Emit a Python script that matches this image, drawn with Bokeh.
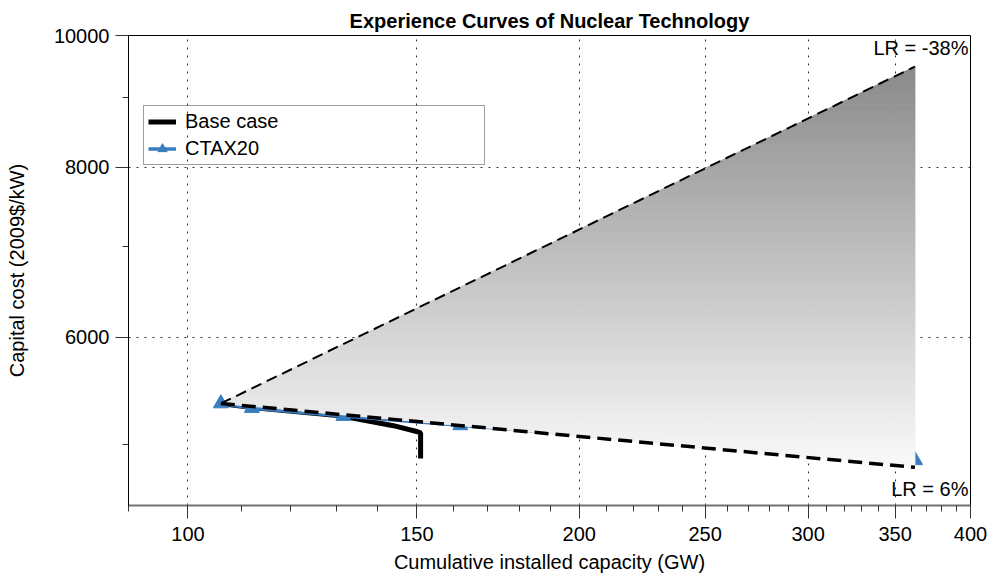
import numpy as np
from bokeh.plotting import figure
from bokeh.models import FixedTicker, Label, Range1d, BasicTickFormatter
from bokeh.embed import file_html
from bokeh.resources import INLINE

# ---------------- data ----------------
base_x = [106, 112, 131, 143.9, 150.2, 151, 151]
base_y = [5361, 5325, 5250, 5163, 5110, 5100, 4883]

ctax_x = [106, 112, 131.7, 162, 362.6]
ctax_y = [5361, 5319, 5248, 5166, 4869]

lr_x = [106, 362.5]
lr_neg38_y = [5361, 9487]   # LR = -38%
lr_6_y = [5361, 4811]       # LR = 6%

x_major = [100, 150, 200, 250, 300, 350, 400]
x_minor = [90, 100, 110, 120, 130, 140, 150, 160, 170, 180, 190, 200, 210, 220, 230,
           240, 250, 260, 270, 280, 290, 300, 310, 320, 330, 340, 350, 360, 370, 380, 390, 400]
y_major = [6000, 8000, 10000]
y_minor = [5000, 7000, 9000]
x_grid = [100, 150, 200, 250, 300, 350]
y_grid = [6000, 8000]

X_MIN, X_MAX = 90, 400
Y_MIN, Y_MAX = 4510, 10000

FONT = "Liberation Sans"
BLUE = "#3a7dc0"

p = figure(x_axis_type="log", y_axis_type="log",
           x_range=Range1d(X_MIN, X_MAX), y_range=Range1d(Y_MIN, Y_MAX),
           frame_width=842, frame_height=470,
           min_border_left=128, min_border_right=17, min_border_top=35, min_border_bottom=73,
           output_backend="svg", toolbar_location=None,
           title="Experience Curves of Nuclear Technology")

p.background_fill_color = "white"
p.border_fill_color = "white"
p.outline_line_color = "black"
p.outline_line_width = 1

p.title.align = "center"
p.title.text_font = FONT
p.title.text_font_size = "20px"
p.title.text_font_style = "bold"
p.title.text_color = "black"
p.title.standoff = 7

# grids
p.xgrid.ticker = FixedTicker(ticks=x_grid)
p.ygrid.ticker = FixedTicker(ticks=y_grid)
for g in (p.xgrid, p.ygrid):
    g.grid_line_color = "#333333"
    g.grid_line_dash = "2 6"
    g.grid_line_width = 1

# axes
p.xaxis.ticker = FixedTicker(ticks=x_major, minor_ticks=x_minor)
p.yaxis.ticker = FixedTicker(ticks=y_major, minor_ticks=y_minor)
p.xaxis.formatter = BasicTickFormatter(use_scientific=False)
p.yaxis.formatter = BasicTickFormatter(use_scientific=False)
for ax in (p.xaxis, p.yaxis):
    ax.major_tick_out = 13
    ax.major_tick_in = 0
    ax.minor_tick_out = 6
    ax.minor_tick_in = 0
    ax.major_tick_line_color = "#333333"
    ax.minor_tick_line_color = "#333333"
    ax.major_label_text_font = FONT
    ax.major_label_text_font_size = "20px"
    ax.major_label_text_color = "black"
    ax.axis_label_text_font = FONT
    ax.axis_label_text_font_size = "20px"
    ax.axis_label_text_font_style = "normal"
    ax.axis_label_text_color = "black"
p.xaxis.axis_line_color = "#707070"
p.xaxis.axis_line_width = 2
p.yaxis.axis_line_color = "black"
p.yaxis.axis_line_width = 1
p.xaxis.major_label_standoff = 8
p.yaxis.major_label_standoff = 6
p.xaxis.axis_label = "Cumulative installed capacity (GW)"
p.yaxis.axis_label = "Capital cost (2009$/kW)"
p.xaxis.axis_label_standoff = 7
p.yaxis.axis_label_standoff = 23

# series
p.line(base_x, base_y, line_color="black", line_width=5, legend_label="Base case")
p.line(ctax_x, ctax_y, line_color=BLUE, line_width=3.5, legend_label="CTAX20")
p.scatter(ctax_x, ctax_y, marker="triangle", size=15, fill_color=BLUE,
          line_color=BLUE, legend_label="CTAX20")

# gradient-filled learning-rate wedge (horizontal bands in log space)
lx0, ly0 = np.log10(lr_x[0]), np.log10(lr_6_y[0])
lx1 = np.log10(lr_x[1])
lyT = np.log10(lr_neg38_y[1])
lyB = np.log10(lr_6_y[1])


def left_x(ly):
    if ly >= ly0:
        return lx0 + (ly - ly0) / (lyT - ly0) * (lx1 - lx0)
    return lx0 + (ly0 - ly) / (ly0 - lyB) * (lx1 - lx0)


N = 220
edges = np.linspace(lyB, lyT, N + 1)
xs, ys, cols = [], [], []
for a, b in zip(edges[:-1], edges[1:]):
    px = [lx1, lx1, left_x(b)]
    py = [a, b, b]
    if a < ly0 < b:
        px.append(lx0)
        py.append(ly0)
    px.append(left_x(a))
    py.append(a)
    xs.append(list(10 ** np.array(px)))
    ys.append(list(10 ** np.array(py)))
    t = ((a + b) / 2 - lyB) / (lyT - lyB)
    gv = int(round(250 - t * (250 - 138)))
    cols.append("#%02x%02x%02x" % (gv, gv, gv))
p.patches(xs=xs, ys=ys, fill_color=cols, line_color=cols, line_width=1)

# dashed learning-rate bounds
p.line(lr_x, lr_neg38_y, line_color="black", line_width=2, line_dash="11 6")
p.line(lr_x, lr_6_y, line_color="black", line_width=3.5, line_dash="14 7")

p.add_layout(Label(x=X_MAX, y=lr_neg38_y[1], x_offset=-2, y_offset=19, text="LR = -38%",
                   text_align="right", text_baseline="alphabetic",
                   text_font=FONT, text_font_size="20px", text_color="black"))
p.add_layout(Label(x=X_MAX, y=lr_6_y[1], x_offset=-2, y_offset=-22, text="LR = 6%",
                   text_align="right", text_baseline="alphabetic",
                   text_font=FONT, text_font_size="20px", text_color="black"))

# legend
lg = p.legend[0]
lg.location = (15, 340)
lg.margin = 0
lg.padding = 4
lg.spacing = 4
lg.label_height = 23
lg.glyph_height = 23
lg.glyph_width = 28
lg.label_standoff = 9
lg.label_width = 295
lg.label_text_font = FONT
lg.label_text_font_size = "20px"
lg.label_text_color = "black"
lg.border_line_color = "#404040"
lg.border_line_width = 1.5
lg.background_fill_alpha = 0

open("out.html", "w").write(file_html(p, INLINE))
